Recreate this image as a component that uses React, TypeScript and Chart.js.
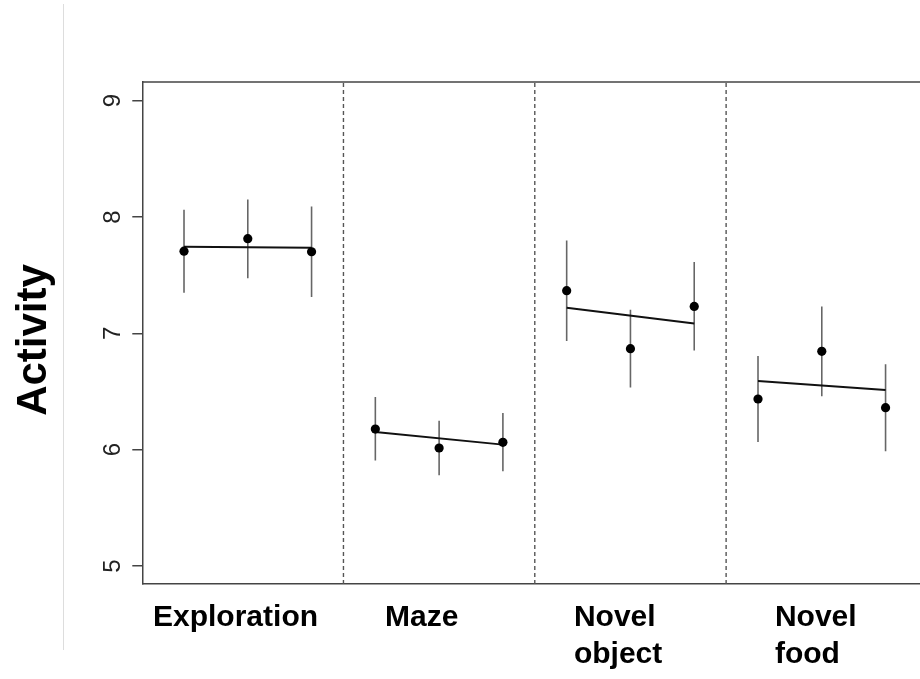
import React, { useEffect, useRef } from 'react';
import { Chart, registerables } from 'chart.js';

Chart.register(...registerables);

// ---- data ----
const categories: string[][] = [['Exploration'], ['Maze'], ['Novel', 'object'], ['Novel', 'food']];
const categoryLabelX = [0.514, 4.151, 7.114, 10.265];
const pointX = [1, 2, 3, 4, 5, 6, 7, 8, 9, 10, 11, 12];
const pointMean = [7.706, 7.813, 7.701, 6.177, 6.014, 6.063, 7.366, 6.868, 7.231, 6.435, 6.845, 6.361];
const barUpper = [8.062, 8.15, 8.09, 6.452, 6.249, 6.314, 7.798, 7.203, 7.612, 6.804, 7.231, 6.733];
const barLower = [7.349, 7.474, 7.311, 5.906, 5.779, 5.814, 6.933, 6.533, 6.853, 6.065, 6.458, 5.985];
const fitX0 = [1, 4, 7, 10];
const fitX1 = [3, 6, 9, 12];
const fitY0 = [7.744, 6.151, 7.22, 6.589];
const fitY1 = [7.735, 6.043, 7.085, 6.512];
const separatorX = [3.5, 6.5, 9.5];
const yTickValues = [5, 6, 7, 8, 9];
const yTitle = 'Activity';
const X_MIN = 0.346;
const X_MAX = 12.54;
const Y_MIN = 4.845;
const Y_MAX = 9.16;

const FONT = '"Liberation Sans", Arial, Helvetica, sans-serif';

const decorPlugin = {
  id: 'decor',
  afterDraw(chart: any) {
    const { ctx, chartArea } = chart;
    const yScale = chart.scales.y;
    const xScale = chart.scales.x;
    ctx.save();
    // top border of the box
    ctx.strokeStyle = '#444';
    ctx.lineWidth = 1.5;
    ctx.beginPath();
    ctx.moveTo(chartArea.left, chartArea.top);
    ctx.lineTo(chartArea.right, chartArea.top);
    ctx.stroke();
    // y tick labels (rotated)
    ctx.fillStyle = '#222';
    ctx.font = `24px ${FONT}`;
    ctx.textAlign = 'center';
    ctx.textBaseline = 'alphabetic';
    yTickValues.forEach((v) => {
      const py = yScale.getPixelForValue(v);
      ctx.save();
      ctx.translate(chartArea.left - 22, py);
      ctx.rotate(-Math.PI / 2);
      ctx.fillText(String(v), 0, 0);
      ctx.restore();
    });
    // x category labels (left aligned, multi-line)
    ctx.fillStyle = '#000';
    ctx.font = `bold 30px ${FONT}`;
    ctx.textAlign = 'left';
    categories.forEach((lines, i) => {
      const px = xScale.getPixelForValue(categoryLabelX[i]);
      lines.forEach((line, j) => {
        ctx.fillText(line, px, chartArea.bottom + 42 + j * 36.5);
      });
    });
    // y title
    ctx.textAlign = 'center';
    ctx.font = `bold 42px ${FONT}`;
    ctx.save();
    ctx.translate(46, (chartArea.top + chartArea.bottom) / 2 + 7);
    ctx.rotate(-Math.PI / 2);
    ctx.fillText(yTitle, 0, 0);
    ctx.restore();
    // light page rule on the left
    ctx.strokeStyle = '#dddddd';
    ctx.lineWidth = 1;
    ctx.beginPath();
    ctx.moveTo(63.5, 4);
    ctx.lineTo(63.5, 650);
    ctx.stroke();
    ctx.restore();
  },
};

export default function App() {
  const ref = useRef<HTMLCanvasElement | null>(null);

  useEffect(() => {
    if (!ref.current) return;

    const points = pointX.map((x, i) => ({ x, y: pointMean[i] }));
    const bars: any[] = [];
    pointX.forEach((x, i) => {
      bars.push({ x, y: barLower[i] });
      bars.push({ x, y: barUpper[i] });
      bars.push({ x, y: null });
    });
    const fits: any[] = [];
    fitX0.forEach((x0, i) => {
      fits.push({ x: x0, y: fitY0[i] });
      fits.push({ x: fitX1[i], y: fitY1[i] });
      fits.push({ x: fitX1[i], y: null });
    });
    const seps: any[] = [];
    separatorX.forEach((x) => {
      seps.push({ x, y: Y_MIN });
      seps.push({ x, y: Y_MAX });
      seps.push({ x, y: null });
    });

    const chart = new Chart(ref.current, {
      type: 'scatter',
      data: {
        datasets: [
          {
            type: 'scatter',
            data: points,
            pointRadius: 4.6,
            pointHoverRadius: 4.6,
            pointBackgroundColor: '#000',
            pointBorderColor: '#000',
            pointBorderWidth: 0,
          } as any,
          {
            type: 'line',
            data: fits,
            borderColor: '#111',
            borderWidth: 2,
            pointRadius: 0,
            pointHoverRadius: 0,
            spanGaps: false,
            fill: false,
          } as any,
          {
            type: 'line',
            data: bars,
            borderColor: '#666',
            borderWidth: 1.6,
            pointRadius: 0,
            pointHoverRadius: 0,
            spanGaps: false,
            fill: false,
          } as any,
          {
            type: 'line',
            data: seps,
            borderColor: '#555',
            borderWidth: 1.4,
            borderDash: [4, 3],
            pointRadius: 0,
            pointHoverRadius: 0,
            spanGaps: false,
            fill: false,
          } as any,
        ],
      },
      options: {
        animation: false,
        responsive: false,
        devicePixelRatio: 1,
        events: [],
        layout: { autoPadding: false, padding: { left: 132.3, top: 82, right: 0, bottom: 95 } },
        plugins: {
          legend: { display: false },
          tooltip: { enabled: false },
        },
        scales: {
          x: {
            type: 'linear',
            min: X_MIN,
            max: X_MAX,
            grid: { display: false, drawTicks: false },
            border: { display: true, color: '#444', width: 1.5 },
            ticks: { display: false },
          },
          y: {
            type: 'linear',
            min: Y_MIN,
            max: Y_MAX,
            afterBuildTicks: (scale: any) => {
              scale.ticks = yTickValues.map((v) => ({ value: v }));
            },
            grid: {
              display: true,
              drawOnChartArea: false,
              drawTicks: true,
              tickLength: 10,
              color: '#444',
              lineWidth: 1.5,
            },
            border: { display: true, color: '#444', width: 1.5 },
            ticks: { display: false },
          },
        },
      } as any,
      plugins: [decorPlugin],
    });
    return () => chart.destroy();
  }, []);

  return (
    <div style={{ position: 'absolute', left: 0, top: 0, width: 920, height: 679, background: '#fff' }}>
      <canvas ref={ref} width={920} height={679} style={{ display: 'block' }} />
    </div>
  );
}
